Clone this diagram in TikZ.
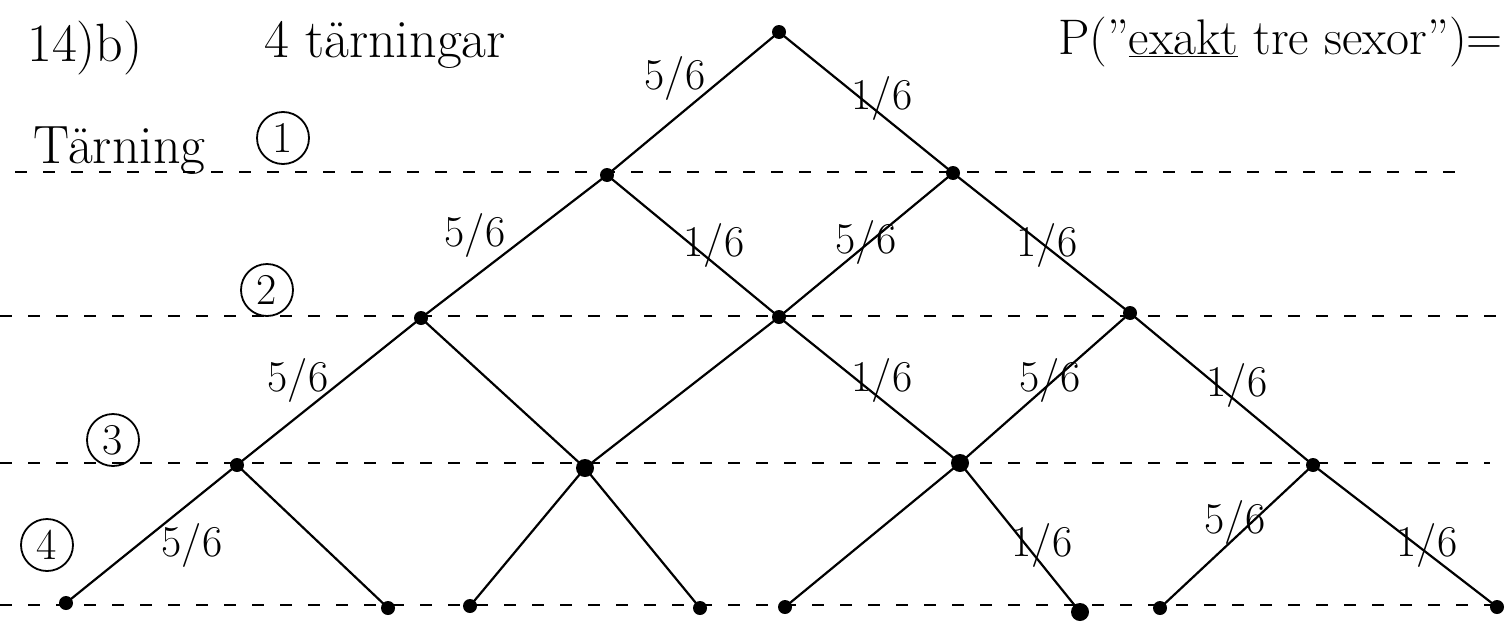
\documentclass[tikz,border=0pt]{standalone}
\usepackage{fontspec}
\begin{document}
\begin{tikzpicture}[x=1pt,y=-1pt,
 dot/.style={circle,fill=black,inner sep=0pt,minimum size=14pt},
 bigdot/.style={dot,minimum size=18pt},
 edge/.style={line width=2.2pt},
 guide/.style={line width=1.4pt,dash pattern=on 12pt off 16pt},
 prob/.style={font=\fontsize{44}{46}\selectfont,inner sep=0pt},
 hand/.style={font=\fontsize{54}{58}\selectfont,inner sep=0pt},
 circnum/.style={draw,circle,line width=1.8pt,inner sep=0pt,minimum size=52pt,font=\fontsize{44}{46}\selectfont}]
\useasboundingbox (0,0) rectangle (1506,629);

% guide lines
\coordinate (g1a) at (15,172);  \coordinate (g1b) at (1460,172);
\coordinate (g2a) at (0,316);   \coordinate (g2b) at (1506,316);
\coordinate (g3a) at (0,463);   \coordinate (g3b) at (1490,463);
\coordinate (g4a) at (0,605);   \coordinate (g4b) at (1506,605);
\draw[guide] (g1a) -- (g1b);
\draw[guide] (g2a) -- (g2b);
\draw[guide] (g3a) -- (g3b);
\draw[guide] (g4a) -- (g4b);

% texts
\node[hand] (title) at (85,48) {14)b)};
\node[hand] (dice) at (385,45) {4 tärningar};
\node[hand,anchor=east,font=\fontsize{50}{54}\selectfont] (prob) at (1503,42) {P(''\underline{exakt} tre sexor'')=};
\node[hand,anchor=base west] (tarning) at (33,163) {Tärning};
\node[circnum] (c1) at (283,138) {1};
\node[circnum] (c2) at (267,290) {2};
\node[circnum] (c3) at (113,440) {3};
\node[circnum] (c4) at (47,545) {4};

% tree nodes
\node[dot] (r) at (779,32) {};
\node[dot] (a1) at (607,175) {};
\node[dot] (a2) at (953,173) {};
\node[dot] (b1) at (421,318) {};
\node[dot] (b2) at (779,317) {};
\node[dot] (b3) at (1130,313) {};
\node[dot] (c1n) at (237,465) {};
\node[bigdot] (c2n) at (585,468) {};
\node[bigdot] (c3n) at (960,463) {};
\node[dot] (c4n) at (1313,465) {};
\node[dot] (d1) at (66,603) {};
\node[dot] (d2) at (388,608) {};
\node[dot] (d3) at (470,606) {};
\node[dot] (d4) at (700,608) {};
\node[dot] (d5) at (785,607) {};
\node[bigdot] (d6) at (1080,612) {};
\node[dot] (d7) at (1160,608) {};
\node[dot] (d8) at (1497,607) {};

% edges
\draw[edge] (r.center) -- (a1.center);
\draw[edge] (r.center) -- (a2.center);
\draw[edge] (a1.center) -- (b1.center);
\draw[edge] (a1.center) -- (b2.center);
\draw[edge] (a2.center) -- (b2.center);
\draw[edge] (a2.center) -- (b3.center);
\draw[edge] (b1.center) -- (c1n.center);
\draw[edge] (b1.center) -- (c2n.center);
\draw[edge] (b2.center) -- (c2n.center);
\draw[edge] (b2.center) -- (c3n.center);
\draw[edge] (b3.center) -- (c3n.center);
\draw[edge] (b3.center) -- (c4n.center);
\draw[edge] (c1n.center) -- (d1.center);
\draw[edge] (c1n.center) -- (d2.center);
\draw[edge] (c2n.center) -- (d3.center);
\draw[edge] (c2n.center) -- (d4.center);
\draw[edge] (c3n.center) -- (d5.center);
\draw[edge] (c3n.center) -- (d6.center);
\draw[edge] (c4n.center) -- (d7.center);
\draw[edge] (c4n.center) -- (d8.center);

% probability labels
\node[prob] (p1) at (675,78) {5/6};
\node[prob] (p2) at (882,98) {1/6};
\node[prob] (p3) at (475,235) {5/6};
\node[prob] (p4) at (714,245) {1/6};
\node[prob] (p5) at (866,242) {5/6};
\node[prob] (p6) at (1047,245) {1/6};
\node[prob] (p7) at (298,380) {5/6};
\node[prob] (p8) at (882,380) {1/6};
\node[prob] (p9) at (1050,380) {5/6};
\node[prob] (p10) at (1237,385) {1/6};
\node[prob] (p11) at (192,545) {5/6};
\node[prob] (p12) at (1042,545) {1/6};
\node[prob] (p13) at (1235,522) {5/6};
\node[prob] (p14) at (1427,545) {1/6};
\end{tikzpicture}
\end{document}
